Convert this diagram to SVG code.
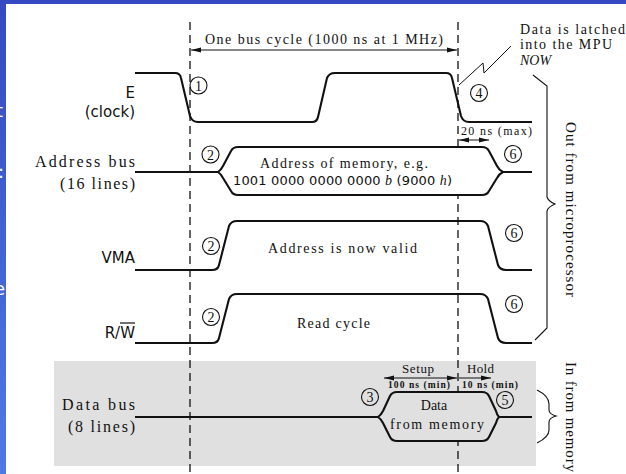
<svg xmlns="http://www.w3.org/2000/svg" width="626" height="474" viewBox="0 0 626 474">
<defs>
<linearGradient id="bg" x1="0" y1="0" x2="0" y2="1">
<stop offset="0" stop-color="#3549c2"/>
<stop offset="1" stop-color="#4e7ae6"/>
</linearGradient>
<marker id="ah" viewBox="0 0 10 6" refX="10" refY="3" markerWidth="10" markerHeight="6" markerUnits="userSpaceOnUse" orient="auto-start-reverse">
<path d="M0,0.6 L10,3 L0,5.4 Z" fill="#111"/>
</marker>
<style>
.serif{font-family:"Liberation Serif","Times New Roman",serif;fill:#111}
.sans{font-family:"DejaVu Sans","Liberation Sans",sans-serif;fill:#111}
.wave{fill:none;stroke:#111;stroke-width:2.1;stroke-linejoin:round}
.dash{stroke:#111;stroke-width:1.3;stroke-dasharray:8 5;fill:none}
.arr{stroke:#111;stroke-width:1;fill:none}
.circ{fill:none;stroke:#111;stroke-width:1.1}
.num{font-family:"Liberation Serif",serif;font-size:14px;fill:#111;text-anchor:middle}
.brace{fill:none;stroke:#111;stroke-width:1.1}
.frag{font-family:"DejaVu Sans",sans-serif;fill:#fff;font-size:18px}
</style>
</defs>
<rect x="0" y="0" width="626" height="474" fill="url(#bg)"/>
<text class="frag" x="-4" y="117">t</text>
<text class="frag" x="-2" y="178" font-size="16">:</text>
<text class="frag" x="-6" y="295">e</text>
<rect x="6" y="4" width="620" height="470" fill="#ffffff"/>
<rect id="databus-bg" x="54" y="361" width="482" height="105" fill="#e0e0e0"/>

<g id="connectors">
<line class="dash" x1="190" y1="22" x2="190" y2="472"/>
<line class="dash" x1="458" y1="22" x2="458" y2="472"/>
<line class="arr" x1="191" y1="50" x2="457" y2="50" marker-start="url(#ah)" marker-end="url(#ah)"/>
<line class="arr" x1="459" y1="140" x2="489" y2="140" marker-start="url(#ah)" marker-end="url(#ah)"/>
<line class="arr" x1="384" y1="378" x2="457" y2="378" marker-start="url(#ah)" marker-end="url(#ah)"/>
<line class="arr" x1="459" y1="378" x2="491" y2="378" marker-end="url(#ah)"/>
<path class="arr" d="M459,85 L483,63 L484,73 L511,46"/>
<path class="brace" d="M533,75 L547,86 L547,197 Q548,201 555,204 Q548,207 547,211 L547,328 L535,340"/>
<path class="brace" d="M537,390 Q549,396 549,404 L549,410 Q549,414 556,416 Q549,418 549,422 L549,430 Q549,437 537,443"/>
</g>

<g id="title">
<text class="serif" x="205" y="44" font-size="14" textLength="238" lengthAdjust="spacing">One bus cycle (1000 ns at 1 MHz)</text>
</g>

<g id="latch-note">
<text class="serif" x="520" y="34" font-size="14" textLength="105" lengthAdjust="spacing">Data is latched</text>
<text class="serif" x="520" y="49" font-size="14" textLength="92" lengthAdjust="spacing">into the MPU</text>
<text class="serif" x="520" y="65" font-size="14" font-style="italic">NOW</text>
</g>

<g id="clock">
<text class="sans" x="135" y="98" font-size="15" text-anchor="end">E</text>
<text class="sans" x="135" y="117" font-size="15" text-anchor="end">(clock)</text>
<path class="wave" d="M135,73 L175,73 Q180,73 181,78 L190,116 Q192,122 198,122 L312,122 Q317,122 318,117 L327,78 Q329,73 335,73 L446,73 Q451,73 452,78 L461,116 Q463,122 469,122 L532,122"/>
<circle class="circ" cx="198.5" cy="85.5" r="8.5"/><text class="num" x="198.5" y="90.5">1</text>
<circle class="circ" cx="479" cy="93" r="8.5"/><text class="num" x="479" y="98">4</text>
<text class="serif" x="461" y="135" font-size="12" textLength="71" lengthAdjust="spacing">20 ns (max)</text>
</g>

<g id="address-bus">
<text class="serif" x="35" y="167" font-size="16" textLength="100" lengthAdjust="spacing">Address bus</text>
<text class="serif" x="60" y="189" font-size="16" textLength="75" lengthAdjust="spacing">(16 lines)</text>
<path class="wave" d="M135,172 L218,172 M503,172 L532,172"/>
<path class="wave" style="fill:#fff" d="M218,172 Q221,170 223,166 L231,151 Q233,147 238,147 L482,147 Q487,147 489,151 L497,166 Q499,170 503,172 Q499,174 497,178 L489,191 Q487,195 482,195 L238,195 Q233,195 231,191 L223,178 Q221,174 218,172 Z"/>
<text class="serif" x="260" y="168" font-size="14" textLength="168" lengthAdjust="spacing">Address of memory, e.g.</text>
<text class="sans" x="233" y="185" font-size="13" textLength="219" lengthAdjust="spacing">1001 0000 0000 0000 <tspan class="serif" font-style="italic" font-size="14">b</tspan> (9000 <tspan class="serif" font-style="italic" font-size="14">h</tspan>)</text>
<circle class="circ" cx="210.5" cy="154.5" r="8.5"/><text class="num" x="210.5" y="159.5">2</text>
<circle class="circ" cx="513" cy="154" r="8.5"/><text class="num" x="513" y="159">6</text>
</g>

<g id="vma">
<text class="sans" x="135" y="263" font-size="15" text-anchor="end">VMA</text>
<path class="wave" d="M135,270 L212,270 Q218,270 219,265 L229,226 Q231,221 237,221 L480,221 Q486,221 488,226 L498,265 Q500,270 506,270 L532,270"/>
<text class="serif" x="268" y="253" font-size="14" textLength="149" lengthAdjust="spacing">Address is now valid</text>
<circle class="circ" cx="211" cy="246" r="8.5"/><text class="num" x="211" y="251">2</text>
<circle class="circ" cx="514" cy="233" r="8.5"/><text class="num" x="514" y="238">6</text>
</g>

<g id="rw">
<text class="sans" x="135" y="338" font-size="15" text-anchor="end">R/W</text>
<line x1="120" y1="323" x2="135" y2="323" stroke="#111" stroke-width="1.2"/>
<path class="wave" d="M135,343 L212,343 Q218,343 219,338 L229,299 Q231,294 237,294 L480,294 Q486,294 488,299 L498,338 Q500,343 506,343 L532,343"/>
<text class="serif" x="297" y="328" font-size="14" textLength="73" lengthAdjust="spacing">Read cycle</text>
<circle class="circ" cx="211" cy="317" r="8.5"/><text class="num" x="211" y="322">2</text>
<circle class="circ" cx="514" cy="304" r="8.5"/><text class="num" x="514" y="309">6</text>
</g>

<g id="data-bus">
<text class="serif" x="62" y="410" font-size="16" textLength="73" lengthAdjust="spacing">Data bus</text>
<text class="serif" x="68" y="432" font-size="16" textLength="67" lengthAdjust="spacing">(8 lines)</text>
<path class="wave" d="M135,417 L378,417 M499,417 L532,417"/>
<path class="wave" style="fill:#e0e0e0" d="M378,417 Q381,415 383,411 L390,396 Q392,392 397,392 L482,392 Q487,392 489,396 L496,411 Q497,415 499,417 Q497,419 496,423 L489,437 Q487,441 482,441 L397,441 Q392,441 390,437 L383,423 Q381,419 378,417 Z"/>
<text class="serif" x="434" y="410" font-size="14" text-anchor="middle">Data</text>
<text class="serif" x="390" y="429" font-size="14" textLength="94" lengthAdjust="spacing">from memory</text>
<text class="serif" x="402" y="373" font-size="13" textLength="32" lengthAdjust="spacing">Setup</text>
<text class="serif" x="467" y="373" font-size="13" textLength="27" lengthAdjust="spacing">Hold</text>
<text class="serif" x="388" y="388" font-size="9.5" font-weight="bold" textLength="62" lengthAdjust="spacing">100 ns (min)</text>
<text class="serif" x="462" y="388" font-size="9.5" font-weight="bold" textLength="56" lengthAdjust="spacing">10 ns (min)</text>
<circle class="circ" cx="370" cy="397" r="8.5"/><text class="num" x="370" y="402">3</text>
<circle class="circ" cx="505" cy="400" r="8.5"/><text class="num" x="505" y="405">5</text>
</g>

<g id="side-labels">
<text class="serif" font-size="15" transform="translate(566,122) rotate(90)" textLength="175" lengthAdjust="spacing">Out from microprocessor</text>
<text class="serif" font-size="15" transform="translate(566,362) rotate(90)" textLength="110" lengthAdjust="spacing">In from memory</text>
</g>
</svg>
